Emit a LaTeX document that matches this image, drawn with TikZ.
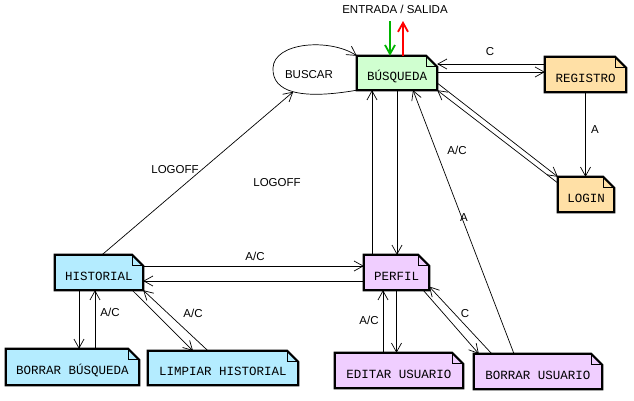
\documentclass[tikz,border=0pt]{standalone}
\usepackage{fontspec}
\setmainfont{Liberation Sans}
\newfontfamily\monof{Liberation Mono}
\usetikzlibrary{arrows.meta,calc}
\pgfdeclarelayer{bg}\pgfsetlayers{bg,main}
\definecolor{cgreen}{RGB}{208,255,208}
\definecolor{corange}{RGB}{255,224,166}
\definecolor{cblue}{RGB}{180,236,255}
\definecolor{cviolet}{RGB}{240,206,255}
\definecolor{agreen}{RGB}{0,180,0}
\newcommand\dogear[2]{%
\begin{pgfonlayer}{bg}
\filldraw[fill=#2, line width=2.2pt, line join=miter] (#1.south west) -- (#1.north west) -- ([xshift=-11pt]#1.north east) -- ([yshift=-11pt]#1.north east) -- (#1.south east) -- cycle;
\draw[line width=1.1pt, line join=miter] ([xshift=-11pt]#1.north east) -- ([xshift=-11pt,yshift=-11pt]#1.north east) -- ([yshift=-11pt]#1.north east);
\end{pgfonlayer}}
\tikzset{
  box/.style={inner sep=0pt, text height=15pt, text depth=0pt, font=\monof\fontsize{12.5}{14}\selectfont, text=black},
  lbl/.style={inner sep=0pt, font=\fontsize{11.5}{13}\selectfont, text=black},
  arr/.style={-{Straight Barb[length=9pt,width=10pt]}, line width=0.7pt},
  bigarr/.style={-{Straight Barb[length=9pt,width=10pt]}, line width=1.8pt},
}
\begin{document}
\begin{tikzpicture}[x=1pt,y=-1pt]
\useasboundingbox (0,0) rectangle (634,400);
% nodes
\node[box, minimum width=80pt, minimum height=34pt] (busq) at (397,73) {BÚSQUEDA};
\node[box, minimum width=81pt, minimum height=35pt] (reg) at (585.5,74.5) {REGISTRO};
\node[box, minimum width=56pt, minimum height=35pt] (login) at (586,194.5) {LOGIN};
\node[box, minimum width=88pt, minimum height=35pt] (hist) at (99,272.5) {HISTORIAL};
\node[box, minimum width=133pt, minimum height=36pt] (bbus) at (72.5,367) {BORRAR BÚSQUEDA};
\node[box, minimum width=150pt, minimum height=34pt] (limp) at (223,368) {LIMPIAR HISTORIAL};
\node[box, minimum width=65pt, minimum height=35pt] (perfil) at (396.5,272.5) {PERFIL};
\node[box, minimum width=128pt, minimum height=35pt] (edit) at (399,370.5) {EDITAR USUARIO};
\node[box, minimum width=128pt, minimum height=35pt] (busu) at (538,371.5) {BORRAR USUARIO};
\dogear{busq}{cgreen}
\dogear{reg}{corange}
\dogear{login}{corange}
\dogear{hist}{cblue}
\dogear{bbus}{cblue}
\dogear{limp}{cblue}
\dogear{perfil}{cviolet}
\dogear{edit}{cviolet}
\dogear{busu}{cviolet}
% entrada / salida
\node[lbl] (es) at (395,9) {ENTRADA / SALIDA};
\coordinate (ein) at (390,21);
\coordinate (esal) at (403,21);
\draw[bigarr, agreen] (ein) -- (ein |- busq.north);
\draw[bigarr, red] (esal |- busq.north) -- (esal);
% loop BUSCAR
\draw[arr] (busq.south west) .. controls (300,100) and (272,92) .. (273,68) coordinate[pos=0.5] (loopb)
  .. controls (274,42) and (330,38) .. (busq.north west);
\node[lbl] (buscar) at (309,75) {BUSCAR};
% busqueda <-> registro
\coordinate (r1) at ([yshift=10.5pt]reg.west);
\coordinate (r2) at ([yshift=2.5pt]reg.west);
\draw[arr] (r1) -- (r1 -| busq.east);
\draw[arr] (r2 -| busq.east) -- (r2);
\node[lbl] (lc1) at (490,52) {C};
% busqueda <-> login
\draw[arr] ([yshift=-10pt]busq.east) -- (login.north west);
\draw[arr] ([yshift=11.5pt]login.west) -- (busq.south east);
\node[lbl] (lac1) at (457,150) {A/C};
% registro -> login
\draw[arr] (reg.south) -- (reg.south |- login.north);
\node[lbl] (la1) at (595,130) {A};
% perfil <-> busqueda
\coordinate (p1) at ([xshift=-24.5pt]perfil.north);
\draw[arr] (p1) -- (p1 |- busq.south);
\draw[arr] (busq.south) -- (busq.south |- perfil.north);
% borrar usuario -> busqueda
\draw[arr] ([xshift=-24pt]busu.north) -- ([xshift=16pt]busq.south);
\node[lbl] (la2) at (464,218) {A};
% historial -> buscar loop
\draw[arr] ([xshift=3pt]hist.north) -- (loopb);
\node[lbl] (lo1) at (175,170) {LOGOFF};
\node[lbl] (lo2) at (277,183) {LOGOFF};
% historial <-> perfil
\coordinate (h1) at ([yshift=6.5pt]hist.east);
\coordinate (h2) at ([yshift=-8.5pt]perfil.west);
\draw[arr] (h1) -- (h1 -| perfil.west);
\draw[arr] (h2) -- (h2 -| hist.east);
\node[lbl] (lac2) at (255,256) {A/C};
% historial <-> borrar busqueda
\coordinate (b1) at ([xshift=-20pt]hist.south);
\coordinate (b2) at ([xshift=-4pt]hist.south);
\draw[arr] (b1) -- (b1 |- bbus.north);
\draw[arr] (b2 |- bbus.north) -- (b2);
\node[lbl] (lac3) at (110,312) {A/C};
% historial <-> limpiar
\draw[arr] ([xshift=-11pt]hist.south east) -- ([xshift=-30pt]limp.north);
\draw[arr] ([xshift=-15pt]limp.north) -- (hist.south east);
\node[lbl] (lac4) at (193,313) {A/C};
% perfil <-> editar
\coordinate (e1) at ([xshift=-16pt]edit.north);
\draw[arr] (e1) -- (e1 |- perfil.south);
\draw[arr] (perfil.south) -- (perfil.south |- edit.north);
\node[lbl] (lac5) at (369,320) {A/C};
% perfil <-> borrar usuario
\draw[arr] ([xshift=-6pt]perfil.south east) -- ([xshift=5pt]busu.north west);
\draw[arr] ([xshift=18pt]busu.north west) -- ([yshift=-14pt]perfil.east);
\node[lbl] (lc2) at (465,314) {C};
\end{tikzpicture}
\end{document}
